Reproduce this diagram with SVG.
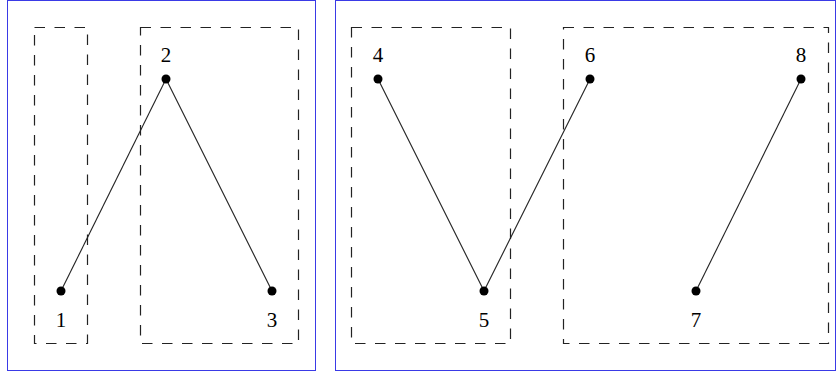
<svg xmlns="http://www.w3.org/2000/svg" width="837" height="374" viewBox="0 0 837 374">
<style>
.frame{fill:none;stroke:#3a3ae6;stroke-width:1}
.box{fill:none;stroke:#222;stroke-width:1.2;stroke-dasharray:10.5,9.5}
.edge{stroke:#222;stroke-width:1.1}
.dot{fill:#000}
.lbl{font-family:"Liberation Serif","DejaVu Serif",serif;font-size:21px;fill:#000;text-anchor:middle}
</style>
<rect width="837" height="374" fill="#fff"/>
<g id="frames">
<rect class="frame" x="7.5" y="0.5" width="308" height="370"/>
<rect class="frame" x="335.5" y="0.5" width="500" height="370"/>
</g>
<g id="groups">
<rect class="box" x="34.5" y="27.5" width="53" height="316"/>
<rect class="box" x="140.5" y="27.5" width="158" height="316"/>
<rect class="box" x="351.5" y="27.5" width="159" height="316"/>
<rect class="box" x="563.5" y="27.5" width="265" height="316"/>
</g>
<g id="connectors">
<line class="edge" x1="61" y1="291" x2="166" y2="79"/>
<line class="edge" x1="166" y1="79" x2="272" y2="291"/>
<line class="edge" x1="378" y1="79" x2="484" y2="291"/>
<line class="edge" x1="484" y1="291" x2="590" y2="79"/>
<line class="edge" x1="696" y1="291" x2="801" y2="79"/>
</g>
<g id="n1"><circle class="dot" cx="61" cy="291" r="4.5"/><text class="lbl" x="61" y="327">1</text></g>
<g id="n2"><circle class="dot" cx="166" cy="79" r="4.5"/><text class="lbl" x="166" y="61.5">2</text></g>
<g id="n3"><circle class="dot" cx="272" cy="291" r="4.5"/><text class="lbl" x="272" y="327">3</text></g>
<g id="n4"><circle class="dot" cx="378" cy="79" r="4.5"/><text class="lbl" x="378" y="61.5">4</text></g>
<g id="n5"><circle class="dot" cx="484" cy="291" r="4.5"/><text class="lbl" x="484" y="327">5</text></g>
<g id="n6"><circle class="dot" cx="590" cy="79" r="4.5"/><text class="lbl" x="590" y="61.5">6</text></g>
<g id="n7"><circle class="dot" cx="696" cy="291" r="4.5"/><text class="lbl" x="696" y="327">7</text></g>
<g id="n8"><circle class="dot" cx="801" cy="79" r="4.5"/><text class="lbl" x="801" y="61.5">8</text></g>
</svg>
